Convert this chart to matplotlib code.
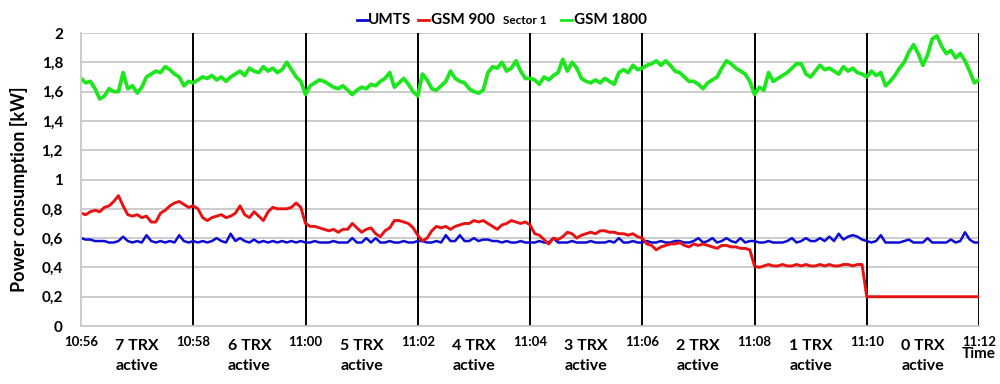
import matplotlib
matplotlib.use("Agg")
import matplotlib.pyplot as plt
from matplotlib.lines import Line2D

plt.rcParams['font.family'] = ['Lato', 'DejaVu Sans']

# Час вимірювань у секундах від 10:56:00 (крок 5 с)
seconds = list(range(0, 961, 5))

time_ticks = [0, 120, 240, 360, 480, 600, 720, 840, 960]
time_labels = ["10:56", "10:58", "11:00", "11:02", "11:04", "11:06", "11:08", "11:10", "11:12"]
trx_labels = ["7 TRX", "6 TRX", "5 TRX", "4 TRX", "3 TRX", "2 TRX", "1 TRX", "0 TRX"]

y_ticks = [0, 0.2, 0.4, 0.6, 0.8, 1.0, 1.2, 1.4, 1.6, 1.8, 2.0]
y_labels = ["0", "0,2", "0,4", "0,6", "0,8", "1", "1,2", "1,4", "1,6", "1,8", "2"]

# Споживання, кВт (по 2-хвилинних відрізках)
umts = [
    0.60, 0.59, 0.59, 0.58, 0.58, 0.58, 0.57, 0.57, 0.58, 0.61, 0.58, 0.57, 0.58, 0.57, 0.62, 0.58, 0.57, 0.58, 0.57, 0.58, 0.57, 0.62, 0.58, 0.57,
    0.58, 0.57, 0.58, 0.57, 0.58, 0.60, 0.58, 0.57, 0.63, 0.58, 0.60, 0.58, 0.57, 0.59, 0.57, 0.58, 0.57, 0.58, 0.57, 0.58, 0.57, 0.58, 0.57, 0.58,
    0.57, 0.57, 0.58, 0.57, 0.57, 0.57, 0.58, 0.57, 0.57, 0.57, 0.60, 0.57, 0.57, 0.60, 0.57, 0.60, 0.57, 0.57, 0.58, 0.57, 0.57, 0.58, 0.57, 0.57,
    0.58, 0.58, 0.57, 0.57, 0.58, 0.57, 0.62, 0.58, 0.58, 0.62, 0.58, 0.58, 0.60, 0.58, 0.59, 0.59, 0.58, 0.58, 0.57, 0.58, 0.57, 0.57, 0.58, 0.57,
    0.57, 0.57, 0.58, 0.57, 0.57, 0.60, 0.57, 0.57, 0.57, 0.58, 0.57, 0.57, 0.57, 0.58, 0.57, 0.57, 0.57, 0.58, 0.57, 0.60, 0.57, 0.57, 0.58, 0.57,
    0.57, 0.58, 0.57, 0.57, 0.58, 0.57, 0.57, 0.58, 0.58, 0.57, 0.57, 0.58, 0.60, 0.57, 0.58, 0.60, 0.57, 0.58, 0.60, 0.58, 0.57, 0.60, 0.57, 0.58,
    0.58, 0.57, 0.57, 0.58, 0.57, 0.57, 0.57, 0.58, 0.60, 0.57, 0.58, 0.60, 0.58, 0.58, 0.60, 0.58, 0.61, 0.58, 0.63, 0.59, 0.61, 0.62, 0.61, 0.59,
    0.58, 0.57, 0.58, 0.62, 0.57, 0.57, 0.57, 0.57, 0.58, 0.59, 0.57, 0.57, 0.57, 0.60, 0.57, 0.57, 0.57, 0.57, 0.59, 0.57, 0.58, 0.64, 0.59, 0.57,
    0.57,
]

gsm900 = [
    0.77, 0.76, 0.78, 0.79, 0.78, 0.81, 0.82, 0.85, 0.89, 0.82, 0.76, 0.75, 0.76, 0.74, 0.75, 0.71, 0.71, 0.77, 0.79, 0.82, 0.84, 0.85, 0.83, 0.81,
    0.82, 0.80, 0.74, 0.72, 0.74, 0.75, 0.76, 0.74, 0.75, 0.77, 0.82, 0.76, 0.74, 0.78, 0.75, 0.72, 0.78, 0.81, 0.80, 0.80, 0.80, 0.81, 0.84, 0.81,
    0.70, 0.68, 0.68, 0.67, 0.66, 0.65, 0.66, 0.64, 0.66, 0.66, 0.70, 0.67, 0.64, 0.66, 0.67, 0.63, 0.61, 0.65, 0.67, 0.72, 0.72, 0.71, 0.70, 0.67,
    0.62, 0.58, 0.60, 0.65, 0.68, 0.67, 0.68, 0.66, 0.68, 0.69, 0.70, 0.70, 0.72, 0.71, 0.72, 0.70, 0.68, 0.66, 0.69, 0.70, 0.72, 0.71, 0.70, 0.71,
    0.69, 0.63, 0.62, 0.59, 0.56, 0.60, 0.59, 0.61, 0.64, 0.63, 0.60, 0.62, 0.63, 0.64, 0.63, 0.65, 0.65, 0.64, 0.64, 0.63, 0.63, 0.62, 0.63, 0.61,
    0.60, 0.56, 0.55, 0.52, 0.54, 0.55, 0.56, 0.56, 0.57, 0.55, 0.54, 0.56, 0.55, 0.56, 0.55, 0.54, 0.53, 0.55, 0.55, 0.54, 0.54, 0.53, 0.53, 0.52,
    0.41, 0.40, 0.41, 0.42, 0.41, 0.41, 0.42, 0.41, 0.41, 0.42, 0.41, 0.42, 0.41, 0.41, 0.42, 0.41, 0.42, 0.41, 0.41, 0.42, 0.42, 0.41, 0.42, 0.42,
    0.20, 0.20, 0.20, 0.20, 0.20, 0.20, 0.20, 0.20, 0.20, 0.20, 0.20, 0.20, 0.20, 0.20, 0.20, 0.20, 0.20, 0.20, 0.20, 0.20, 0.20, 0.20, 0.20, 0.20,
    0.20,
]

gsm1800 = [
    1.69, 1.66, 1.67, 1.62, 1.55, 1.57, 1.62, 1.60, 1.60, 1.73, 1.62, 1.64, 1.59, 1.63, 1.70, 1.72, 1.74, 1.73, 1.77, 1.75, 1.72, 1.70, 1.64, 1.67,
    1.66, 1.68, 1.70, 1.69, 1.71, 1.68, 1.70, 1.67, 1.70, 1.72, 1.74, 1.71, 1.76, 1.74, 1.73, 1.77, 1.74, 1.76, 1.73, 1.75, 1.80, 1.75, 1.70, 1.67,
    1.58, 1.64, 1.66, 1.68, 1.67, 1.65, 1.63, 1.62, 1.64, 1.61, 1.58, 1.61, 1.63, 1.62, 1.65, 1.64, 1.67, 1.69, 1.73, 1.63, 1.66, 1.69, 1.65, 1.60,
    1.57, 1.72, 1.68, 1.62, 1.61, 1.64, 1.67, 1.74, 1.69, 1.67, 1.66, 1.62, 1.60, 1.59, 1.61, 1.73, 1.77, 1.76, 1.80, 1.74, 1.76, 1.81, 1.74, 1.69,
    1.69, 1.68, 1.65, 1.70, 1.68, 1.71, 1.73, 1.82, 1.74, 1.80, 1.76, 1.69, 1.67, 1.66, 1.68, 1.66, 1.69, 1.67, 1.65, 1.73, 1.75, 1.73, 1.78, 1.75,
    1.76, 1.78, 1.79, 1.81, 1.78, 1.81, 1.78, 1.74, 1.73, 1.70, 1.67, 1.67, 1.65, 1.62, 1.66, 1.68, 1.70, 1.76, 1.81, 1.79, 1.76, 1.74, 1.72, 1.67,
    1.58, 1.63, 1.61, 1.73, 1.67, 1.69, 1.71, 1.73, 1.76, 1.79, 1.79, 1.72, 1.70, 1.74, 1.78, 1.75, 1.76, 1.74, 1.72, 1.77, 1.74, 1.76, 1.73, 1.72,
    1.70, 1.74, 1.71, 1.73, 1.64, 1.67, 1.71, 1.76, 1.80, 1.87, 1.92, 1.86, 1.78, 1.85, 1.96, 1.98, 1.91, 1.86, 1.88, 1.83, 1.86, 1.81, 1.74, 1.66,
    1.68,
]

BLUE = "#0c0cd2"
RED = "#e81212"
GREEN = "#1ee61e"

fig = plt.figure(figsize=(10, 3.84), dpi=100)
ax = fig.add_axes([0.081, 0.151, 0.898, 0.763])

ax.plot(seconds, umts, color=BLUE, lw=1.8)
ax.plot(seconds, gsm900, color=RED, lw=2.1)
ax.plot(seconds, gsm1800, color=GREEN, lw=2.7)

ax.set_xlim(0, 960)
ax.set_ylim(0, 2)

# Сітка та вертикальні роздільники
ax.set_yticks(y_ticks, y_labels, fontsize=11, fontweight="bold")
ax.yaxis.grid(True, color="#c8c8c8", lw=1.3)
ax.set_axisbelow(True)
for t in time_ticks[1:]:
    ax.axvline(t, color="black", lw=1.4, zorder=1)

for side in ["top", "right"]:
    ax.spines[side].set_visible(False)
ax.spines["left"].set_color("#c8c8c8")
ax.spines["bottom"].set_color("#c8c8c8")
ax.spines["left"].set_linewidth(1.3)
ax.spines["bottom"].set_linewidth(1.3)

ax.set_xticks(time_ticks, time_labels, fontsize=9.5, fontweight="bold")
ax.tick_params(axis="both", length=0)
ax.tick_params(axis="x", pad=7)
ax.tick_params(axis="y", pad=13)

# Підписи про кількість активних TRX
for i, lab in enumerate(trx_labels):
    mid = (time_ticks[i] + time_ticks[i + 1]) / 2
    ax.annotate(lab, xy=(mid, 0), xytext=(0, -14.5), textcoords="offset points",
                ha="center", va="center", fontsize=11.5, fontweight="bold")
    ax.annotate("active", xy=(mid, 0), xytext=(0, -29), textcoords="offset points",
                ha="center", va="center", fontsize=11.5, fontweight="bold")

ax.annotate("Time", xy=(960, 0), xytext=(0, -20.5), textcoords="offset points",
            ha="center", va="center", fontsize=11, fontweight="bold")

fig.text(0.019, 0.507, "Power consumption [kW]", rotation=90, ha="center", va="center",
         fontsize=13, fontweight="bold")

# Легенда вручну (через різний розмір шрифту "Sector 1")
ly = 1 - 20 / 384
legend_items = [
    (357, 368, BLUE, "UMTS", 11),
    (418, 431, RED, "GSM 900", 11),
    (None, 503, None, "Sector 1", 8.5),
    (561, 574, GREEN, "GSM 1800", 11),
]
for x0, xt, col, text, size in legend_items:
    if x0 is not None:
        fig.add_artist(Line2D([x0 / 1000, (x0 + 11) / 1000], [ly, ly], color=col, lw=2.0,
                              transform=fig.transFigure))
    fig.text(xt / 1000, ly, text, ha="left", va="center", fontsize=size, fontweight="bold")

fig.savefig("out.png", dpi=100)
